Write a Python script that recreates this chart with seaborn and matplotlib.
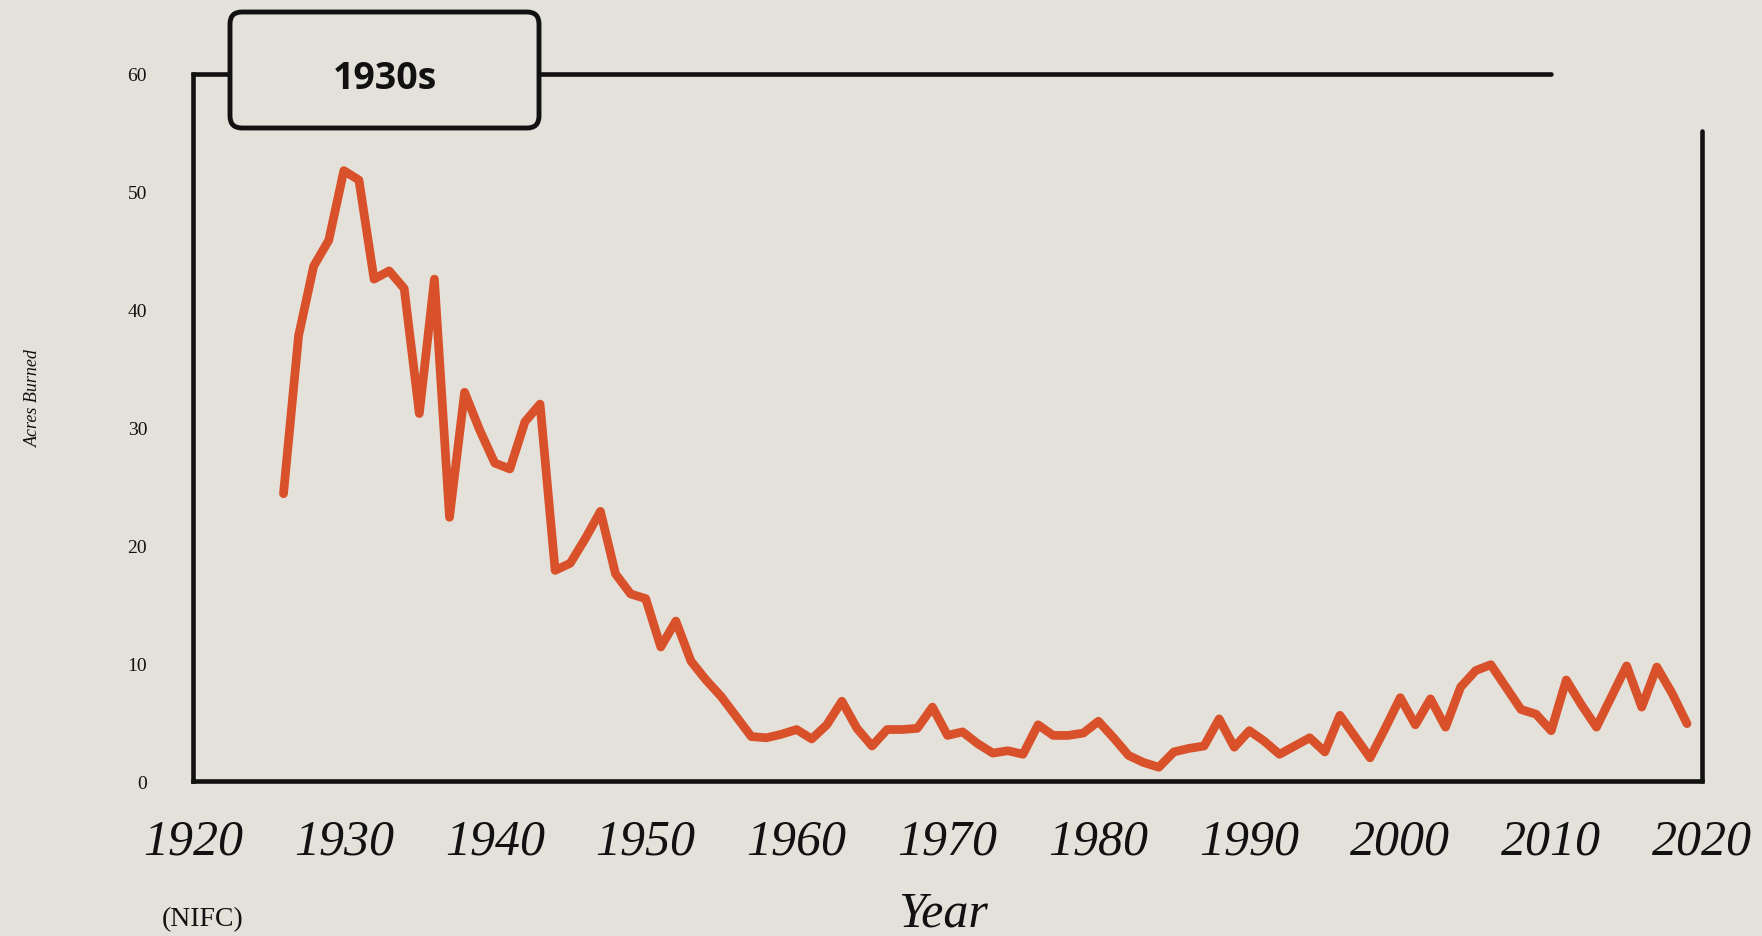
import numpy as np
import pandas as pd
import seaborn as sns
import matplotlib.pyplot as plt
from matplotlib.patches import FancyBboxPatch

## Datos (millones de acres quemados, NIFC)
years = list(range(1926, 2020))
acres = [
    24.4, 37.8, 43.7, 45.9, 51.8, 51.0, 42.6, 43.3, 41.8, 31.2,   # 1926-1935
    42.6, 22.4, 33.0, 29.8, 27.0, 26.5, 30.5, 32.0, 17.9, 18.5,   # 1936-1945
    20.6, 22.9, 17.6, 15.9, 15.5, 11.4, 13.6, 10.2, 8.6, 7.2,     # 1946-1955
    5.5, 3.8, 3.7, 4.0, 4.4, 3.6, 4.8, 6.8, 4.5, 3.0,             # 1956-1965
    4.4, 4.4, 4.5, 6.3, 3.9, 4.2, 3.2, 2.4, 2.6, 2.3,             # 1966-1975
    4.8, 3.9, 3.9, 4.1, 5.1, 3.7, 2.2, 1.6, 1.2, 2.5,             # 1976-1985
    2.8, 3.0, 5.3, 2.9, 4.3, 3.4, 2.3, 3.0, 3.7, 2.5,             # 1986-1995
    5.6, 3.8, 2.0, 4.5, 7.1, 4.8, 7.0, 4.6, 8.0, 9.4,             # 1996-2005
    9.9, 8.0, 6.1, 5.7, 4.3, 8.6, 6.5, 4.6, 7.2, 9.8,             # 2006-2015
    6.3, 9.7, 7.5, 4.9,                                           # 2016-2019
]
x_ticks = [1920, 1930, 1940, 1950, 1960, 1970, 1980, 1990, 2000, 2010, 2020]
y_ticks = [0, 10, 20, 30, 40, 50, 60]

df = pd.DataFrame({"year": years, "acres": acres})

paper = "#e4e1da"
ink = "#111111"
orange = "#d8512a"

sns.set_theme(style="white")
plt.rcParams["font.family"] = ["Liberation Serif", "DejaVu Serif"]

fig = plt.figure(figsize=(17.62, 9.37), dpi=100, facecolor=paper)
ax = fig.add_axes([0.1095, 0.165, 0.8565, 0.755])
ax.set_facecolor(paper)

sns.lineplot(data=df, x="year", y="acres", ax=ax, color=orange, linewidth=6.3,
             solid_joinstyle="round", solid_capstyle="round")

ax.set_xlim(1920, 2020)
ax.set_ylim(0, 60)
ax.set_xticks(x_ticks)
ax.set_yticks(y_ticks)
ax.set_xticklabels([str(t) for t in x_ticks], fontsize=36, style="italic")
ax.set_yticklabels([str(t) for t in y_ticks], fontsize=14)
ax.tick_params(axis="x", length=0, pad=26, colors=ink)
ax.tick_params(axis="y", length=0, pad=33, colors=ink)
ax.set_xlabel("")
ax.set_ylabel("")

# marco abierto: arriba y a la derecha no se cierran
for side in ["top", "right"]:
    ax.spines[side].set_visible(False)
for side in ["left", "bottom"]:
    ax.spines[side].set_color(ink)
    ax.spines[side].set_linewidth(3.3)
ax.axhline(60, xmin=0, xmax=0.90, color=ink, linewidth=3.3, clip_on=False)
ax.axvline(2020, ymin=0, ymax=0.92, color=ink, linewidth=3.3, clip_on=False)

# caja del titulo
box = FancyBboxPatch((2.30, 8.08), 3.09, 1.16, boxstyle="round,pad=0,rounding_size=0.12",
                     transform=fig.dpi_scale_trans, facecolor=paper, edgecolor=ink,
                     linewidth=3.5, zorder=5)
fig.add_artist(box)
fig.text(3.845 / 17.62, 8.58 / 9.37, "1930s", fontsize=27, fontweight="bold",
         family=["Open Sans", "DejaVu Sans"], ha="center", va="center", color=ink, zorder=6)

fig.text(0.535, 0.024, "Year", fontsize=36, style="italic", ha="center", va="center", color=ink)
fig.text(0.115, 0.019, "(NIFC)", fontsize=20, ha="center", va="center", color=ink)
fig.text(0.019, 0.575, "Acres Burned", fontsize=13, style="italic", rotation=90,
         ha="center", va="center", color=ink)

plt.savefig("out.png", dpi=100, facecolor=paper)
